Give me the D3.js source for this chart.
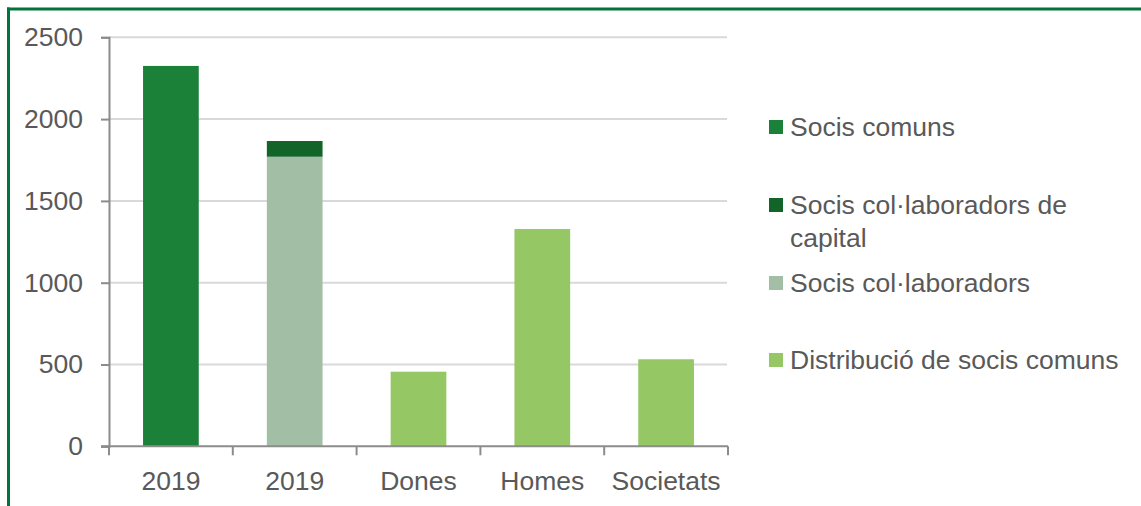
<!DOCTYPE html>
<html>
<head>
<meta charset="utf-8">
<script src="https://cdn.jsdelivr.net/npm/d3@7"></script>
<style>
  html, body { margin: 0; padding: 0; background: #fff; }
  svg { display: block; }
  text { font-family: "Liberation Sans", Arial, sans-serif; fill: #595959; }
</style>
</head>
<body>
<svg id="chart" width="1141" height="506"></svg>
<script>
const categories = ["2019", "2019", "Dones", "Homes", "Societats"];
const seriesNames = ["Socis comuns", "Socis col·laboradors de capital", "Socis col·laboradors", "Distribució de socis comuns"];
const socisComuns = [2325, 0, 0, 0, 0];
const socisCapital = [0, 96, 0, 0, 0];
const socisCollaboradors = [0, 1770, 0, 0, 0];
const distribucio = [0, 0, 456, 1328, 532];
const yTicks = [0, 500, 1000, 1500, 2000, 2500];
const colors = ["#1b8038", "#136428", "#a2bfa6", "#95c764"];

const svg = d3.select("#chart");
const W = 1141, H = 506;
const FS = 26.5;

// frame border (top + left)
svg.append("line").attr("x1", 7).attr("x2", W).attr("y1", 9).attr("y2", 9)
  .attr("stroke", "#00743a").attr("stroke-width", 3);
svg.append("line").attr("x1", 8.5).attr("x2", 8.5).attr("y1", 7.5).attr("y2", H)
  .attr("stroke", "#00743a").attr("stroke-width", 3);

const x = d3.scaleBand().domain(d3.range(categories.length)).range([109, 728]).paddingInner(0.55).paddingOuter(0.275);
const y = d3.scaleLinear().domain([0, 2500]).range([446.3, 37.3]);

// gridlines
svg.append("g").selectAll("line").data(yTicks.filter(d => d > 0)).join("line")
  .attr("x1", 109).attr("x2", 727)
  .attr("y1", d => y(d)).attr("y2", d => y(d))
  .attr("stroke", "#d9d9d9").attr("stroke-width", 2);

// data table for stacking
const keys = ["comuns", "collaboradors", "capital", "distribucio"];
const table = categories.map((c, i) => ({
  i,
  comuns: socisComuns[i],
  collaboradors: socisCollaboradors[i],
  capital: socisCapital[i],
  distribucio: distribucio[i]
}));
const colorByKey = { comuns: colors[0], capital: colors[1], collaboradors: colors[2], distribucio: colors[3] };
const stacked = d3.stack().keys(keys)(table);

svg.append("g").selectAll("g").data(stacked).join("g")
  .attr("fill", s => colorByKey[s.key])
  .selectAll("rect").data(s => s.filter(d => d[1] - d[0] > 0)).join("rect")
  .attr("x", d => x(d.data.i))
  .attr("width", x.bandwidth())
  .attr("y", d => y(d[1]))
  .attr("height", d => y(d[0]) - y(d[1]));

// y axis
const yAxis = svg.append("g").attr("transform", "translate(109,0)")
  .call(d3.axisLeft(y).tickValues(yTicks).tickSize(8).tickPadding(18).tickFormat(d3.format("d")));
yAxis.select(".domain").attr("stroke", "#8c8c8c").attr("stroke-width", 2);
yAxis.selectAll(".tick line").attr("stroke", "#8c8c8c").attr("stroke-width", 2);
yAxis.selectAll(".tick text").attr("font-size", FS).attr("fill", "#595959")
  .attr("font-family", "'Liberation Sans', Arial, sans-serif");

// x axis
const xAxisG = svg.append("g").attr("transform", "translate(0,446.3)");
xAxisG.append("line").attr("x1", 101).attr("x2", 728).attr("y1", 0).attr("y2", 0)
  .attr("stroke", "#8c8c8c").attr("stroke-width", 2);
const step = x.step();
const bounds = d3.range(categories.length + 1).map(k => 109 + k * step);
xAxisG.selectAll("line.tk").data(bounds).join("line").attr("class", "tk")
  .attr("x1", d => d).attr("x2", d => d).attr("y1", 0).attr("y2", 9)
  .attr("stroke", "#8c8c8c").attr("stroke-width", 2);
xAxisG.selectAll("text").data(categories).join("text")
  .attr("x", (d, i) => x(i) + x.bandwidth() / 2)
  .attr("y", 44)
  .attr("text-anchor", "middle")
  .attr("font-size", FS)
  .text(d => d);

// legend
const legendY = [127, 205, 283, 360];
const lg = svg.append("g");
seriesNames.forEach((name, k) => {
  const g = lg.append("g").attr("transform", `translate(769,${legendY[k]})`);
  g.append("rect").attr("x", 0).attr("y", -7).attr("width", 14).attr("height", 14).attr("fill", colors[k]);
  const t = g.append("text").attr("x", 21).attr("y", 0).attr("font-size", FS);
  const words = name.split(" ");
  let line = [];
  let ts = t.append("tspan").attr("x", 21).attr("dy", "0.35em");
  words.forEach(w => {
    line.push(w);
    ts.text(line.join(" "));
    if (ts.node().getComputedTextLength() > 345 && line.length > 1) {
      line.pop();
      ts.text(line.join(" "));
      line = [w];
      ts = t.append("tspan").attr("x", 21).attr("dy", "1.22em").text(w);
    }
  });
});
</script>
</body>
</html>
